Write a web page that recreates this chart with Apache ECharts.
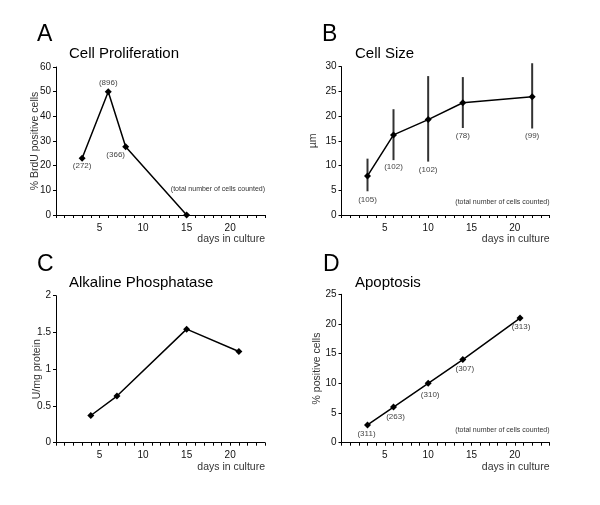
<!DOCTYPE html>
<html>
<head>
<meta charset="utf-8">
<script src="https://cdn.jsdelivr.net/npm/echarts@6/dist/echarts.min.js"></script>
<style>html,body{margin:0;padding:0;background:#fff;}#c{width:600px;height:505px;}</style>
</head>
<body>
<div id="c"></div>
<script>
// ---- Data ----
const xTickLabels = [5, 10, 15, 20];

const prolifDays = [3, 6, 8, 15];
const prolifPct = [23, 50, 27.7, 0];
const prolifCounts = [272, 896, 366, null];

const sizeDays = [3, 6, 10, 14, 22];
const sizeMean = [7.9, 16.2, 19.3, 22.7, 23.9];
const sizeLow = [4.8, 11.1, 10.8, 17.6, 17.5];
const sizeHigh = [11.4, 21.4, 28.1, 27.9, 30.7];
const sizeCounts = [105, 102, 102, 78, 99];

const alpDays = [4, 7, 15, 21];
const alpValues = [0.37, 0.635, 1.545, 1.24];

const apopDays = [3, 6, 10, 14, 20.6];
const apopPct = [3, 6, 10, 14, 21];
const apopCounts = [311, 263, 310, 307, 313];

const panelLetters = ['A', 'B', 'C', 'D'];
const panelTitles = ['Cell Proliferation', 'Cell Size', 'Alkaline Phosphatase', 'Apoptosis'];
const yNames = ['% BrdU positive cells', '\u00b5m', 'U/mg protein', '% positive cells'];
const xName = 'days in culture';
const noteText = '(total number of cells counted)';

// ---- Build ----
const FF = "'Liberation Sans', Arial, Helvetica, sans-serif";
const chart = echarts.init(document.getElementById('c'), null, {renderer: 'canvas'});

const grids = [
  {left: 56, top: 67, width: 209, height: 148},
  {left: 341.5, top: 66.7, width: 208, height: 148.3},
  {left: 56, top: 295.7, width: 209, height: 147},
  {left: 341.5, top: 294.3, width: 208, height: 148.4}
];
const yMax = [60, 30, 2, 25];
const yInt = [10, 5, 0.5, 5];
const yNameGap = [15, 23, 13, 19];

function xAxis(i) {
  return {
    type: 'value', gridIndex: i, min: 0, max: 24, interval: 1,
    axisLine: {lineStyle: {color: '#000', width: 1}},
    axisTick: {length: 3, lineStyle: {color: '#000'}},
    splitLine: {show: false},
    axisLabel: {
      margin: 8, fontSize: 10, color: '#111', fontFamily: FF,
      formatter: v => (xTickLabels.indexOf(v) >= 0 ? String(v) : '')
    },
    name: xName, nameLocation: 'end', nameGap: 0,
    nameTextStyle: {fontSize: 10.5, color: '#333', fontFamily: FF, align: 'right', verticalAlign: 'top', padding: [19, 0, 0, 0]}
  };
}
function yAxis(i) {
  return {
    type: 'value', gridIndex: i, min: 0, max: yMax[i], interval: yInt[i],
    axisLine: {show: true, lineStyle: {color: '#000', width: 1}},
    axisTick: {show: true, length: 3, lineStyle: {color: '#000'}},
    splitLine: {show: false},
    axisLabel: {margin: 5, fontSize: 10, color: '#111', fontFamily: FF},
    name: yNames[i], nameLocation: 'middle', nameGap: yNameGap[i], nameMoveOverlap: false,
    nameTextStyle: {fontSize: 10.5, color: '#333', fontFamily: FF}
  };
}

function lineSeries(i, xs, ys, counts, offsets) {
  return {
    type: 'line', xAxisIndex: i, yAxisIndex: i,
    data: xs.map((x, k) => {
      const item = {value: [x, ys[k]]};
      if (counts && counts[k] != null) {
        item.label = {show: true, position: 'inside', offset: offsets[k], formatter: '(' + counts[k] + ')'};
      }
      return item;
    }),
    symbol: 'diamond', symbolSize: 7, showAllSymbol: true,
    lineStyle: {color: '#000', width: 1.5},
    itemStyle: {color: '#000'},
    label: {show: false, fontSize: 8, color: '#444', fontFamily: FF},
    emphasis: {disabled: true},
    animation: false, z: 3
  };
}

const offA = [[0, 8], [0, -9], [-10, 8], null];
const offB = [[0, 24], [0, 32], [0, 50], [0, 33], [0, 39]];
const offD = [[-1, 9], [2, 10], [2, 11], [2, 9], [1, 9]];

const series = [
  lineSeries(0, prolifDays, prolifPct, prolifCounts, offA),
  {
    type: 'custom', xAxisIndex: 1, yAxisIndex: 1,
    data: sizeDays.map((x, k) => [x, sizeLow[k], sizeHigh[k]]),
    renderItem: function (params, api) {
      const p1 = api.coord([api.value(0), api.value(1)]);
      const p2 = api.coord([api.value(0), api.value(2)]);
      return {type: 'line', shape: {x1: p1[0], y1: p1[1], x2: p2[0], y2: p2[1]},
        style: {stroke: '#333', lineWidth: 2}};
    },
    clip: false, animation: false, z: 2, silent: true
  },
  lineSeries(1, sizeDays, sizeMean, sizeCounts, offB),
  lineSeries(2, alpDays, alpValues, null, null),
  lineSeries(3, apopDays, apopPct, apopCounts, offD)
];

const letterPos = [[37, 23], [322, 23], [37, 253], [323, 253]];
const titlePos = [[69, 46], [355, 46], [69, 275], [355, 275]];
const titles = [];
for (let i = 0; i < 4; i++) {
  titles.push({text: panelLetters[i], left: letterPos[i][0], top: letterPos[i][1], padding: 0,
    textStyle: {fontSize: 23, fontWeight: 'normal', color: '#000', fontFamily: FF}});
  titles.push({text: panelTitles[i], left: titlePos[i][0], top: titlePos[i][1], padding: 0,
    textStyle: {fontSize: 15, fontWeight: 'normal', color: '#000', fontFamily: FF}});
}

const notes = [[265, 189], [549.5, 202], [549.5, 430]].map(p => ({
  type: 'text', x: p[0], y: p[1],
  style: {text: noteText, fontSize: 7, fill: '#333', fontFamily: FF, align: 'right', verticalAlign: 'middle'}
}));

chart.setOption({
  animation: false,
  backgroundColor: '#fff',
  title: titles,
  grid: grids.map(g => Object.assign({containLabel: false}, g)),
  xAxis: [0, 1, 2, 3].map(xAxis),
  yAxis: [0, 1, 2, 3].map(yAxis),
  series: series,
  graphic: notes
});
</script>
</body>
</html>
